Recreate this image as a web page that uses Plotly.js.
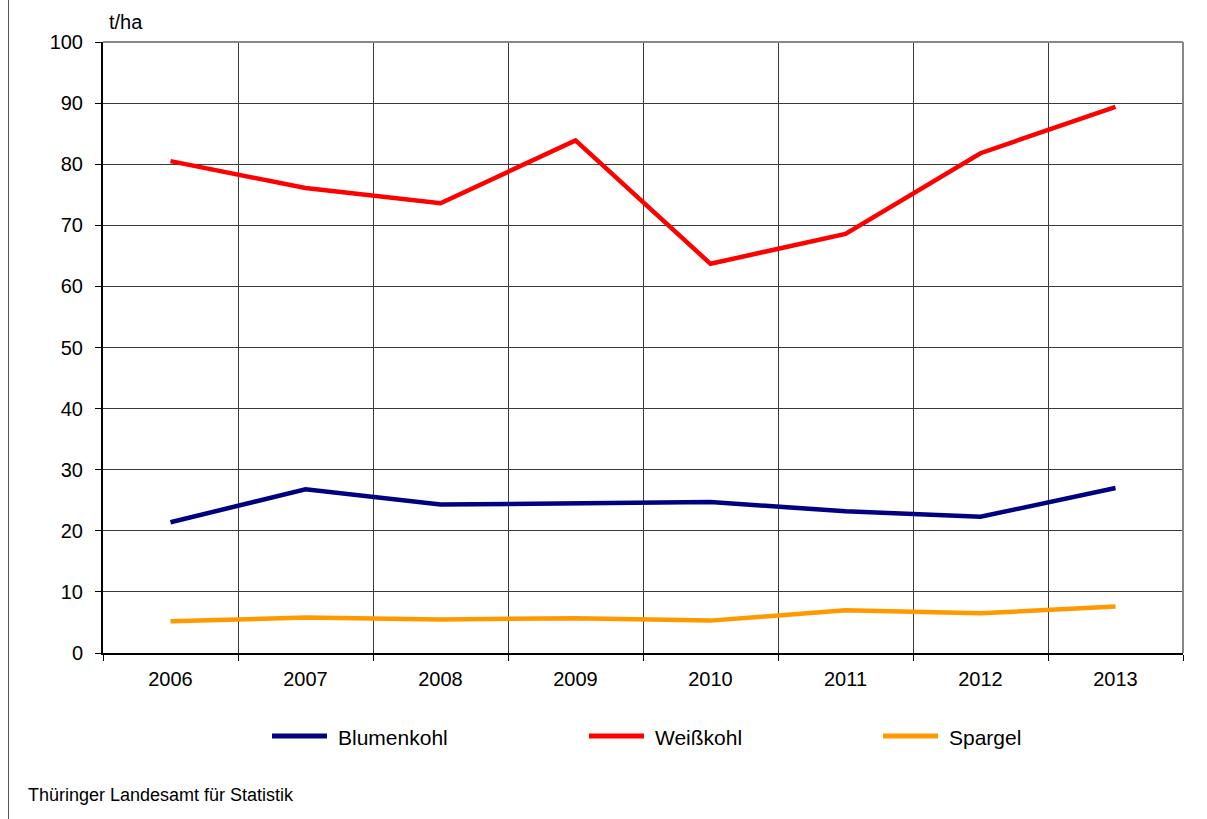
<!DOCTYPE html>
<html>
<head>
<meta charset="utf-8">
<script src="https://cdn.plot.ly/plotly-3.0.1.min.js"></script>
<style>html,body{margin:0;padding:0;background:#fff;}#chart{width:1207px;height:819px;}</style>
</head>
<body>
<div id="chart"></div>
<script>
const years = ["2006", "2007", "2008", "2009", "2010", "2011", "2012", "2013"];
const blumenkohl = [21.4, 26.8, 24.3, 24.5, 24.7, 23.2, 22.3, 27.0];
const weisskohl = [80.5, 76.1, 73.6, 83.9, 63.7, 68.6, 81.8, 89.4];
const spargel = [5.2, 5.8, 5.5, 5.7, 5.3, 7.0, 6.5, 7.6];
const seriesNames = ["Blumenkohl", "Weißkohl", "Spargel"];
const seriesColors = ["#000080", "#ff0000", "#ff9900"];
const yTicks = [0, 10, 20, 30, 40, 50, 60, 70, 80, 90, 100];

const font = "Liberation Sans, Arial, sans-serif";
const W = 1080, H = 611, L = 103, T = 42;
const px = v => (v - L) / W;
const py = v => (T + H - v) / H;

const seriesValues = [blumenkohl, weisskohl, spargel];
const traces = seriesValues.map((vals, i) => ({
  x: years, y: vals, name: seriesNames[i], type: "scatter", mode: "lines",
  line: {color: seriesColors[i], width: 4.5}, showlegend: false
}));

// legend drawn manually to match spacing of the reference
const legendLineX = [272, 589, 883];
const legendShapes = legendLineX.map((x, i) => ({
  type: "line", xref: "paper", yref: "paper", x0: px(x), x1: px(x + 55),
  y0: py(736), y1: py(736), line: {color: seriesColors[i], width: 5}
}));
const legendAnn = legendLineX.map((x, i) => ({
  text: seriesNames[i], xref: "paper", yref: "paper", x: px(x + 64), y: py(737),
  xanchor: "left", yanchor: "middle", showarrow: false,
  font: {family: font, size: 21, color: "#000"}
}));

const layout = {
  width: 1207, height: 819,
  margin: {l: 103, r: 24, t: 42, b: 166},
  paper_bgcolor: "#fff", plot_bgcolor: "#fff",
  font: {family: font, size: 20, color: "#000"},
  showlegend: false,
  xaxis: {
    type: "category", tickson: "boundaries", range: [-0.5, 7.5],
    showgrid: true, gridcolor: "#3a3a3a", gridwidth: 1,
    showline: true, linecolor: "#000", linewidth: 2,
    ticks: "outside", ticklen: 6, tickcolor: "#000", tickwidth: 1,
    ticklabelstandoff: 7,
    tickfont: {family: font, size: 20, color: "#000"},
    fixedrange: true, zeroline: false
  },
  yaxis: {
    range: [0, 100], tickvals: yTicks, ticktext: yTicks.map(String),
    showgrid: true, gridcolor: "#3a3a3a", gridwidth: 1,
    showline: true, linecolor: "#000", linewidth: 2,
    ticks: "outside", ticklen: 6, tickcolor: "#000", tickwidth: 1,
    ticklabelstandoff: 8,
    tickfont: {family: font, size: 20, color: "#000"},
    zeroline: false, fixedrange: true
  },
  shapes: [
    {type: "line", xref: "paper", yref: "paper", x0: 0, x1: 1, y0: 1, y1: 1,
     line: {color: "#888", width: 2}},
    {type: "line", xref: "paper", yref: "paper", x0: 1, x1: 1, y0: 0, y1: 1,
     line: {color: "#888", width: 2}},
    {type: "line", xref: "paper", yref: "paper", x0: px(8.5), x1: px(8.5),
     y0: py(819), y1: py(0), line: {color: "#555", width: 1}}
  ].concat(legendShapes),
  annotations: [
    {text: "t/ha", xref: "paper", yref: "paper", x: px(107), y: py(22),
     xanchor: "left", yanchor: "middle", showarrow: false, font: {family: font, size: 20, color: "#000"}},
    {text: "Thüringer Landesamt für Statistik", xref: "paper", yref: "paper",
     x: px(26), y: py(795), xanchor: "left", yanchor: "middle",
     showarrow: false, font: {family: font, size: 18, color: "#000"}}
  ].concat(legendAnn)
};

Plotly.newPlot("chart", traces, layout, {displayModeBar: false, staticPlot: true});
</script>
</body>
</html>
